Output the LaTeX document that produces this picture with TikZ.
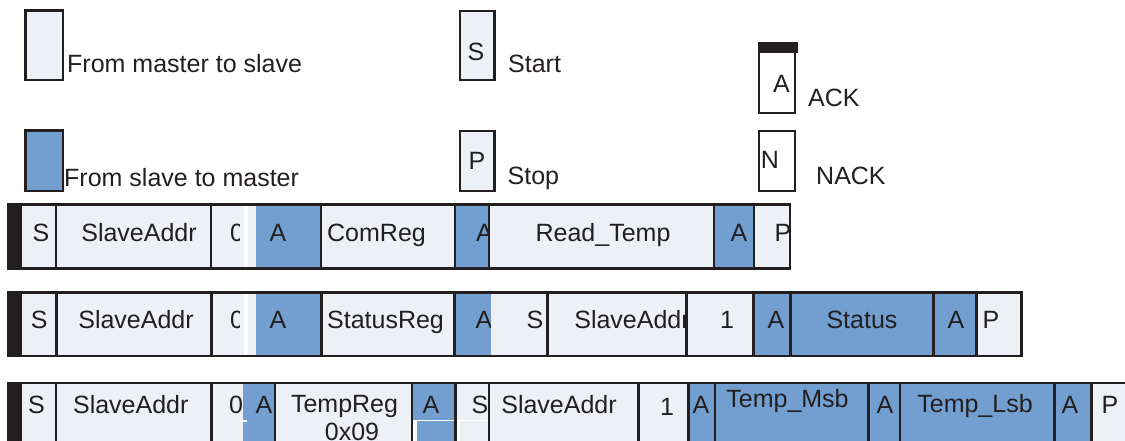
\documentclass[tikz,border=0pt]{standalone}
\usepackage{fontspec}
\setmainfont{Liberation Sans}
\usetikzlibrary{positioning,fit}
\definecolor{lightcell}{RGB}{237,240,245}
\definecolor{bluecell}{RGB}{114,159,207}
\definecolor{inkgray}{RGB}{35,31,32}

\begin{document}
\begin{tikzpicture}[
  x=1pt, y=-1pt,
  lightblock/.style={
    rectangle,
    fill=lightcell,
    inner sep=0pt,
    outer sep=0pt
  },
  blueblock/.style={
    rectangle,
    fill=bluecell,
    inner sep=0pt,
    outer sep=0pt
  },
  barblock/.style={
    rectangle,
    fill=inkgray,
    inner sep=0pt,
    outer sep=0pt
  },
  legbox/.style={
    rectangle,
    draw=inkgray,
    line width=2.2pt,
    inner sep=0pt,
    outer sep=0pt
  },
  rowline/.style={draw=inkgray, line width=2.8pt},
  sepline/.style={draw=inkgray, line width=2.8pt, line cap=rect},
  celltext/.style={
    font=\fontsize{25}{30}\selectfont,
    text=inkgray,
    inner sep=0pt,
    text height=17.2pt,
    text depth=0pt
  },
  every label/.style={celltext}]
  \useasboundingbox (0,0) rectangle (1125,441);
  \clip (0,0) rectangle (1125,441);

  % legend
  \node[fit={(25.5,10.5)(62.8,80.2)}, legbox, fill=lightcell] (keymaster) {};
  \node[celltext, anchor=west] (keymastertext) at (67,64) {From master to slave};
  \node[fit={(25.5,130.5)(62.8,191.3)}, legbox, fill=bluecell] (keyslave) {};
  \node[celltext, anchor=west] (keyslavetext) at (64,178) {From slave to master};
  \node[fit={(460.3,10.8)(494.5,80.2)}, legbox, fill=lightcell] (keystart) {};
  \node[celltext] (keystartletter) at (476,52) {S};
  \node[celltext, anchor=west] (keystarttext) at (508,64) {Start};
  \node[fit={(460.3,131.3)(494.5,191.3)}, legbox, fill=lightcell] (keystop) {};
  \node[celltext] (keystopletter) at (477,161) {P};
  \node[celltext, anchor=west] (keystoptext) at (507.5,176) {Stop};
  \node[fit={(758.8,47.5)(795.3,112.8)}, legbox, fill=white] (keyack) {};
  \draw[inkgray, line width=11.6pt, shorten <=-1pt, shorten >=-2.5pt]
    (keyack.north west) -- (keyack.north east);
  \node[celltext] (keyackletter) at (781.5,83.5) {A};
  \node[celltext, anchor=west] (keyacktext) at (808,98) {ACK};
  \node[fit={(758.8,131.3)(795.3,191.3)}, legbox, fill=white] (keynack) {};
  \node[celltext] (keynackletter) at (770,160) {N};
  \node[celltext, anchor=west] (keynacktext) at (816,176) {NACK};

  % write command
  \begin{scope}[every label/.append style={yshift=4pt}]
    \node[fit={(7,204.5)(22,268.5)}, barblock] (r1bar) {};
    \node[fit={(22,204.5)(56,268.5)}, lightblock, label={[xshift=2pt]center:S}] (r1s) {};
    \node[fit={(56,204.5)(211,268.5)}, lightblock, label={[xshift=5.5pt]center:SlaveAddr}] (r1addr) {};
    \node[fit={(211,204.5)(256,268.5)}, lightblock, label={[xshift=3.5pt]center:0}] (r1rw) {};
    \fill[lightcell] (240,204.5) rectangle (256,268.5);
    \fill[white] (244,206) rectangle (248,267);
    \node[fit={(256,204.5)(321,268.5)}, blueblock, label={[xshift=-10.5pt]center:A}] (r1ack) {};
    \node[fit={(321,204.5)(455,268.5)}, lightblock, label={[xshift=-11.5pt]center:ComReg}] (r1reg) {};
    \node[fit={(455,204.5)(489,268.5)}, blueblock, label={[xshift=12.5pt]center:A}] (r1ackb) {};
    \node[fit={(489,204.5)(714,268.5)}, lightblock, label={[xshift=1.5pt]center:Read\_Temp}] (r1data) {};
    \node[fit={(714,204.5)(754,268.5)}, blueblock, label={[xshift=5pt]center:A}] (r1ackc) {};
    \node[fit={(754,204.5)(790,268.5)}, lightblock, label={[xshift=11pt]center:P}] (r1p) {};
  \end{scope}
  \draw[rowline] (r1bar.north west) -- (r1p.north east);
  \draw[rowline] (r1bar.south west) -- (r1p.south east);
  \foreach \c in {r1s,r1addr,r1ack,r1reg,r1ackb,r1data,r1ackc,r1p}
    \draw[sepline] (\c.north east) -- (\c.south east);

  % status read
  \begin{scope}[every label/.append style={yshift=4.25pt}]
    \node[fit={(7,292.5)(22,356)}, barblock] (r2bar) {};
    \node[fit={(22,292.5)(56.5,356)}, lightblock, label={center:S}] (r2s) {};
    \node[fit={(56.5,292.5)(211.5,356)}, lightblock, label={[xshift=2pt]center:SlaveAddr}] (r2addr) {};
    \node[fit={(211.5,292.5)(256,356)}, lightblock, label={[xshift=3.25pt]center:0}] (r2rw) {};
    \fill[lightcell] (240,292.5) rectangle (256,356);
    \fill[white] (244,294) rectangle (248,354.5);
    \node[fit={(256,292.5)(321.5,356)}, blueblock, label={[xshift=-10.75pt]center:A}] (r2ack) {};
    \node[fit={(321.5,292.5)(454.5,356)}, lightblock, label={[xshift=-2.5pt]center:StatusReg}] (r2reg) {};
    \node[fit={(454.5,292.5)(491,356)}, blueblock, label={[xshift=11.25pt]center:A}] (r2ackb) {};
    \node[fit={(491,292.5)(547.5,356)}, lightblock, label={[xshift=15.75pt]center:S}] (r2rs) {};
    \node[fit={(547.5,292.5)(686.5,356)}, lightblock, label={[xshift=15pt]center:SlaveAddr}] (r2addrb) {};
    \node[fit={(686.5,292.5)(753.5,356)}, lightblock, label={[xshift=7pt]center:1}] (r2rwb) {};
    \node[fit={(753.5,292.5)(790.5,356)}, blueblock, label={[xshift=4pt]center:A}] (r2ackc) {};
    \node[fit={(790.5,292.5)(933.5,356)}, blueblock, label={center:Status}] (r2data) {};
    \node[fit={(933.5,292.5)(976.5,356)}, blueblock, label={[xshift=1pt]center:A}] (r2ackd) {};
    \node[fit={(976.5,292.5)(1021.5,356)}, lightblock, label={[xshift=-8pt]center:P}] (r2p) {};
  \end{scope}
  \draw[rowline] (r2bar.north west) -- (r2p.north east);
  \draw[rowline] (r2bar.south west) -- (r2p.south east);
  \foreach \c in {r2s,r2addr,r2ack,r2reg,r2rs,r2addrb,r2rwb,r2ackc,r2data,r2ackd,r2p}
    \draw[sepline] (\c.north east) -- (\c.south east);

  % temperature read
  \begin{scope}[every label/.append style={yshift=10pt}]
    \node[fit={(7,383)(22,447)}, barblock] (r3bar) {};
    \node[fit={(22,383)(56,447)}, lightblock, label={[xshift=-2.5pt]center:S}] (r3s) {};
    \node[fit={(56,383)(211.5,447)}, lightblock, label={[xshift=-3pt]center:SlaveAddr}] (r3addr) {};
    \node[fit={(211.5,383)(243,447)}, lightblock, label={[xshift=8.75pt]center:0}] (r3rw) {};
    \node[fit={(243,383)(275,447)}, blueblock, label={[xshift=5pt]center:A}] (r3ack) {};
    \node[fit={(275,383)(412,447)}, lightblock,
      label={[xshift=1pt, yshift=1.5pt]center:TempReg},
      label={[xshift=8.5pt, yshift=-26.5pt]center:0x09}] (r3reg) {};
    \node[fit={(412,383)(455.5,447)}, blueblock, label={[xshift=-2.75pt]center:A}] (r3ackb) {};
    \node[fit={(455.5,383)(489,447)}, lightblock, label={[xshift=7.75pt]center:S}] (r3rs) {};
    \node[fit={(489,383)(638.5,447)}, lightblock, label={[xshift=-4.75pt]center:SlaveAddr}] (r3addrb) {};
    \node[fit={(638.5,383)(688.5,447)}, lightblock, label={[xshift=3.5pt, yshift=-2pt]center:1}] (r3rwb) {};
    \node[fit={(688.5,383)(715,447)}, blueblock, label={[xshift=-0.75pt]center:A}] (r3ackc) {};
    \node[fit={(715,383)(868.5,447)}, blueblock, label={[xshift=-4.25pt, yshift=6pt]center:Temp\_Msb}] (r3msb) {};
    \node[fit={(868.5,383)(900,447)}, blueblock, label={[xshift=0.75pt]center:A}] (r3ackd) {};
    \node[fit={(900,383)(1054.5,447)}, blueblock, label={[xshift=-2.25pt, yshift=1pt]center:Temp\_Lsb}] (r3lsb) {};
    \node[fit={(1054.5,383)(1091.5,447)}, blueblock, label={[xshift=-3pt]center:A}] (r3acke) {};
    \node[fit={(1091.5,383)(1135,447)}, lightblock, label={[xshift=-3.25pt]center:P}] (r3p) {};
  \end{scope}
  \draw[white, line width=1.6pt] (413.4,420.5) -- (487.6,420.5);
  \fill[white] (413.4,420.5) rectangle (416.5,447);
  \fill[white] (456.9,420.5) rectangle (459.5,447);
  \fill[white] (243,419.5) rectangle (247,421.5);
  \draw[rowline] (r3bar.north west) -- (r3p.north east);
  \foreach \c in {r3s,r3addr,r3ack,r3reg,r3ackb,r3rs,r3addrb,r3rwb,r3ackc,r3msb,r3ackd,r3lsb,r3acke}
    \draw[sepline] (\c.north east) -- (\c.south east);
\end{tikzpicture}
\end{document}
